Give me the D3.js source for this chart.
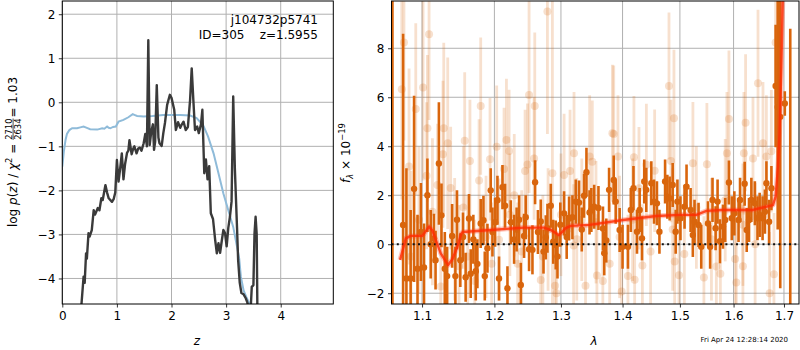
<!DOCTYPE html>
<html>
<head>
<meta charset="utf-8">
<script src="https://cdn.jsdelivr.net/npm/d3@7/dist/d3.min.js"></script>
<style>
  body { margin: 0; background: white; }
  svg { font-family: "DejaVu Sans", sans-serif; }
</style>
</head>
<body>
<div id="fig"></div>
<script>
const width = 800
const height = 350

// ---- left panel: log p(z) ----
// [z, log p] posterior (dark) and prior (blue)
const posterior = [[0.32,-5.2],[0.35,-4.6],[0.39,-3.96],[0.41,-4.1],[0.435,-3.43],[0.45,-3.55],[0.48,-2.97],[0.50,-3.05],[0.54,-2.9],[0.575,-2.45],[0.60,-2.55],[0.65,-2.4],[0.68,-2.45],[0.715,-2.18],[0.74,-2.22],[0.79,-1.88],[0.82,-2.05],[0.85,-2.18],[0.91,-2.26],[0.94,-2.2],[0.97,-2.05],[1.0,-1.31],[1.03,-1.8],[1.06,-1.5],[1.09,-1.16],[1.12,-1.75],[1.15,-1.4],[1.185,-1.15],[1.21,-1.1],[1.23,-0.86],[1.27,-1.18],[1.30,-1.05],[1.32,-1.0],[1.36,-1.16],[1.39,-1.05],[1.42,-1.03],[1.45,-1.1],[1.49,-0.93],[1.52,-0.72],[1.55,-1.0],[1.575,1.41],[1.60,-0.97],[1.63,-0.66],[1.66,-0.5],[1.68,-1.08],[1.70,-0.9],[1.73,0.39],[1.76,-0.8],[1.78,-0.93],[1.82,-0.99],[1.85,-0.7],[1.88,-0.47],[1.92,-0.06],[1.97,0.17],[2.0,0.1],[2.05,-0.17],[2.08,-0.63],[2.12,-0.45],[2.16,-0.58],[2.19,-0.5],[2.22,-0.44],[2.26,-0.63],[2.30,-0.56],[2.34,0.05],[2.37,0.77],[2.40,0.05],[2.43,-0.63],[2.47,-0.55],[2.50,-0.7],[2.54,-0.5],[2.565,-0.17],[2.60,-1.61],[2.63,-1.3],[2.66,-1.75],[2.69,-1.45],[2.72,-2.52],[2.76,-2.65],[2.80,-3.13],[2.83,-3.43],[2.86,-3.2],[2.89,-3.42],[2.92,-3.15],[2.95,-2.9],[2.98,-2.97],[3.01,-3.27],[3.04,-2.85],[3.07,-2.6],[3.10,-2.25],[3.13,0.13],[3.16,-1.5],[3.20,-2.85],[3.22,-3.58],[3.25,-4.1],[3.28,-4.33],[3.32,-4.36],[3.36,-4.45],[3.39,-4.55],[3.42,-4.75],[3.45,-4.7],[3.47,-4.19],[3.50,-4.15],[3.52,-2.98],[3.54,-2.6],[3.56,-3.0],[3.575,-5.0]]
const prior = [[0,-1.46],[0.03,-1.1],[0.06,-0.85],[0.085,-0.72],[0.13,-0.63],[0.18,-0.59],[0.27,-0.59],[0.33,-0.57],[0.39,-0.55],[0.45,-0.58],[0.51,-0.61],[0.64,-0.62],[0.73,-0.59],[0.77,-0.6],[0.82,-0.55],[0.85,-0.58],[0.88,-0.59],[0.93,-0.56],[0.98,-0.55],[1.03,-0.44],[1.12,-0.4],[1.21,-0.34],[1.29,-0.27],[1.33,-0.29],[1.37,-0.31],[1.49,-0.32],[1.65,-0.31],[1.85,-0.29],[2.16,-0.29],[2.34,-0.3],[2.46,-0.36],[2.58,-0.52],[2.67,-0.78],[2.77,-1.16],[2.86,-1.61],[2.95,-2.07],[3.04,-2.45],[3.13,-2.83],[3.2,-3.28],[3.24,-3.55],[3.27,-3.96],[3.32,-4.27],[3.38,-4.45],[3.43,-4.58],[3.5,-4.8]]
const zTicks = [0, 1, 2, 3, 4]
const pTicks = [-4, -3, -2, -1, 0, 1, 2]

// ---- right panel: spectrum ----
// [lambda, flux, error]
const specStrong = [[1.0615,-10,25],[1.0752,0.79,7.8],[1.0795,-1.4,4.5],[1.0850,-1.4,2.8],[1.0895,2.26,3.8],[1.094,-1.0,2.2],[1.0985,0.5,2.0],[1.1026,-0.95,1.8],[1.1071,2.0,1.5],[1.1115,0.0,1.4],[1.1159,0.24,1.0],[1.118,-0.65,1.2],[1.1225,3.3,2.5],[1.126,1.18,1.3],[1.1305,-1.0,1.5],[1.1337,-1.3,1.2],[1.1405,0.34,1.3],[1.145,-1.3,1.2],[1.1472,1.0,1.2],[1.1518,-0.65,1.1],[1.1555,0.3,1.0],[1.1592,-1.35,1.0],[1.1639,1.05,1.0],[1.1663,-1.2,1.0],[1.17,0.2,1.0],[1.1734,-1.1,1.2],[1.1757,-0.8,1.0],[1.1804,0.85,1.0],[1.1843,0.98,1.0],[1.1862,-1.3,1.0],[1.19,-0.16,1.0],[1.1947,2.2,0.9],[1.1972,0.5,1.0],[1.2010,0.9,1.0],[1.2044,1.8,1.0],[1.2067,-1.4,0.9],[1.2117,2.33,0.9],[1.2155,1.57,0.9],[1.219,-1.8,0.9],[1.2239,0.9,0.9],[1.2288,0.2,1.0],[1.2325,0.6,0.9],[1.2362,1.0,1.0],[1.2387,-1.66,0.9],[1.2436,0.34,0.9],[1.2461,1.1,0.9],[1.2511,-0.2,0.9],[1.2562,-0.23,1.0],[1.2602,2.53,0.9],[1.2645,0.5,0.9],[1.2688,0.93,0.9],[1.2730,-0.3,0.9],[1.2765,0.28,0.9],[1.2791,0.65,1.0],[1.2842,1.57,0.9],[1.288,0.1,0.9],[1.2919,-0.03,1.0],[1.2946,-0.5,0.9],[1.2990,0.8,0.9],[1.3049,1.26,0.9],[1.309,0.3,0.9],[1.3128,1.05,0.9],[1.3181,1.1,0.9],[1.3234,1.74,0.9],[1.3286,1.7,0.9],[1.333,0.6,0.9],[1.3367,1.98,0.9],[1.3405,2.94,1.0],[1.3455,1.3,0.9],[1.3484,1.4,0.9],[1.353,1.53,0.9],[1.360,1.48,0.9],[1.3674,0.64,0.9],[1.3695,-0.37,0.9],[1.3729,0.15,0.9],[1.3775,2.22,0.9],[1.3852,2.62,1.0],[1.3885,1.74,0.9],[1.3951,0.58,0.9],[1.40,-0.1,0.9],[1.4091,-0.1,0.9],[1.414,1.4,0.9],[1.4185,2.29,0.9],[1.4245,0.51,0.9],[1.4291,1.4,0.9],[1.4331,0.24,0.9],[1.437,2.56,0.9],[1.4405,2.22,0.9],[1.4493,2.49,0.9],[1.454,1.74,0.9],[1.4591,1.67,0.9],[1.4635,0.51,0.9],[1.4735,2.56,0.9],[1.4775,1.94,0.9],[1.4816,1.87,0.9],[1.487,2.42,0.9],[1.4924,0.51,0.9],[1.4955,1.74,0.9],[1.501,1.06,0.9],[1.5084,1.53,0.9],[1.512,2.35,0.9],[1.5194,1.4,0.9],[1.5235,0.38,0.9],[1.5266,0.92,0.9],[1.534,0.79,0.9],[1.539,-0.1,0.9],[1.5515,0.85,0.9],[1.5555,-0.1,0.9],[1.560,1.81,0.9],[1.5658,0.65,0.9],[1.5695,1.74,0.9],[1.574,0.12,0.9],[1.5797,0.72,0.9],[1.584,0.99,0.9],[1.5911,2.52,0.9],[1.5965,1.06,0.9],[1.6015,1.26,0.9],[1.6096,0.99,0.9],[1.6125,1.81,0.9],[1.6215,2.47,0.9],[1.6255,0.58,0.9],[1.630,0.99,0.9],[1.6346,1.81,0.9],[1.6415,1.67,0.9],[1.6467,1.06,0.9],[1.651,1.2,0.9],[1.6568,1.06,0.9],[1.6615,1.33,0.9],[1.6645,2.49,0.9],[1.6698,0.92,0.9],[1.6745,2.29,0.9],[1.683,6.46,2.5],[1.6872,5.6,5.0],[1.6924,5.2,7.0],[1.7017,5.75,0.5],[1.7129,-3.0,11.8]]
const specWeak = [[1.0735,6.33,4.5],[1.0763,8.24,4.0],[1.0829,3.17,4.0],[1.0855,-0.5,3.5],[1.0917,5.52,3.5],[1.0960,1.0,3.0],[1.1013,6.4,3.8],[1.1060,2.8,3.0],[1.1071,4.73,3.0],[1.1093,8.57,3.5],[1.1138,1.33,3.0],[1.1206,2.42,2.5],[1.125,-1.73,2.5],[1.128,3.67,3.0],[1.1291,4.73,3.5],[1.1345,4.12,3.5],[1.1385,2.3,2.5],[1.1440,0.2,2.5],[1.1500,-0.9,2.5],[1.1560,1.5,2.5],[1.1579,4.22,2.8],[1.1620,-0.5,2.5],[1.1652,3.4,2.5],[1.1720,-1.5,2.5],[1.1781,2.6,2.5],[1.1804,5.64,2.8],[1.1880,0.3,2.5],[1.1937,3.47,2.5],[1.1960,-0.8,2.5],[1.2033,3.98,2.5],[1.2067,0.18,2.5],[1.214,3.07,2.5],[1.2175,4.26,2.5],[1.2214,3.81,2.5],[1.2225,1.2,2.5],[1.2290,2.0,2.5],[1.2340,-0.8,2.5],[1.2400,-0.3,2.5],[1.2451,2.99,2.5],[1.2487,3.25,2.5],[1.2511,6.09,4.0],[1.2587,3.5,2.5],[1.2597,5.64,3.0],[1.2688,-1.46,2.5],[1.2720,-0.5,2.5],[1.2790,9.5,5.0],[1.2800,0.6,2.5],[1.2867,2.9,7.5],[1.2909,-1.7,2.5],[1.293,-2.0,2.5],[1.3000,1.2,2.5],[1.3049,2.83,2.5],[1.3143,2.99,2.5],[1.3200,-0.05,2.5],[1.3206,3.71,2.5],[1.3250,0.2,2.5],[1.3330,1.0,2.5],[1.339,-1.7,2.5],[1.3457,3.58,2.5],[1.35,3.37,2.5],[1.3560,0.9,2.5],[1.3575,-1.28,2.5],[1.3672,-1.5,2.5],[1.3785,-0.8,2.5],[1.383,4.53,2.8],[1.3852,4.5,2.8],[1.3923,3.58,2.5],[1.3950,0.3,2.5],[1.3985,-1.93,2.5],[1.4091,-1.3,2.5],[1.4170,1.0,2.5],[1.4193,3.55,2.5],[1.4205,-1.45,2.5],[1.4279,2.29,2.5],[1.4338,-0.87,2.5],[1.4407,3.24,2.5],[1.4480,-0.3,2.5],[1.4551,3.0,2.5],[1.4804,6.46,3.0],[1.4839,3.4,2.5],[1.4870,0.6,2.5],[1.4893,5.14,2.8],[1.4906,-0.7,2.5],[1.4983,-1.27,2.5],[1.5080,-0.4,2.5],[1.5236,3.31,2.5],[1.5300,1.5,2.5],[1.5439,-1.36,2.5],[1.5495,3.27,2.5],[1.5580,0.2,2.5],[1.5672,-0.91,2.5],[1.5748,-1.2,2.5],[1.5840,1.8,2.5],[1.5873,3.71,2.5],[1.5911,5.11,2.8],[1.6030,-0.6,2.5],[1.6053,-1.56,2.5],[1.6180,0.8,2.5],[1.6181,-0.9,2.5],[1.62,3.71,2.5],[1.6233,4.96,2.8],[1.6378,3.5,2.5],[1.6420,0.0,2.5],[1.6477,6.57,3.0],[1.6576,4.12,2.5],[1.6644,3.58,2.5],[1.6709,-2.0,2.5],[1.6744,3.8,2.5],[1.6796,-1.23,2.5],[1.683,8.24,2.5]]
// best-fit model [lambda, flux]
const model = [[1.0713,-0.64],[1.0787,0.24],[1.0852,0.34],[1.1005,0.34],[1.1093,0.72],[1.1138,0.56],[1.1183,0.18],[1.125,-0.37],[1.135,-0.85],[1.141,-0.6],[1.1478,-0.1],[1.1534,0.45],[1.155,0.5],[1.1947,0.58],[1.2436,0.68],[1.2738,0.68],[1.2842,0.58],[1.297,0.38],[1.3,0.45],[1.3075,0.66],[1.3154,0.75],[1.3457,0.79],[1.4007,0.99],[1.458,1.15],[1.4996,1.2],[1.530,1.2],[1.5486,1.36],[1.5798,1.4],[1.6378,1.4],[1.6576,1.5],[1.6776,1.6],[1.683,1.94],[1.6877,3.17],[1.691,4.54],[1.6947,7.25],[1.698,10.5],[1.70,12]]
const lamTicks = [1.1, 1.2, 1.3, 1.4, 1.5, 1.6, 1.7]
const fluxTicks = [-2, 0, 2, 4, 6, 8]

const objName = "j104732p5741"
const objInfo = "ID=305    z=1.5955"
const stamp = "Fri Apr 24 12:28:14 2020"

const orange = "#d9650c"
const gridColor = "#b0b0b0"

const svg = d3.select("#fig").append("svg")
    .attr("width", width)
    .attr("height", height)

// scales
const xz = d3.scaleLinear().domain([0, 4.963]).range([62.3, 333.3])
const yp = d3.scaleLinear().domain([-4.58, 2.30]).range([304, 1])
const xl = d3.scaleLog().domain([1.0603, 1.731]).range([391.5, 799])
const yf = d3.scaleLinear().domain([-2.44, 9.93]).range([304, 1])

const defs = svg.append("defs")
defs.append("clipPath").attr("id", "clipL").append("rect")
    .attr("x", 62.3).attr("y", 1).attr("width", 333.3 - 62.3).attr("height", 303)
defs.append("clipPath").attr("id", "clipR").append("rect")
    .attr("x", 391.5).attr("y", 1).attr("width", 799 - 391.5).attr("height", 303)

function grid(g, xs, xTicks, ys, yTicks) {
    g.selectAll(".gx").data(xTicks).join("line")
        .attr("x1", d => xs(d)).attr("x2", d => xs(d))
        .attr("y1", ys.range()[0]).attr("y2", ys.range()[1])
        .attr("stroke", gridColor).attr("stroke-width", 1)
    g.selectAll(".gy").data(yTicks).join("line")
        .attr("class", "gy")
        .attr("y1", d => ys(d)).attr("y2", d => ys(d))
        .attr("x1", xs.range()[0]).attr("x2", xs.range()[1])
        .attr("stroke", gridColor).attr("stroke-width", 1)
}

function axes(xs, xTicks, ys, yTicks, fmtX) {
    const ax = svg.append("g")
        .attr("transform", `translate(0,${ys.range()[0]})`)
        .call(d3.axisBottom(xs).tickValues(xTicks).tickSize(3.5).tickPadding(3.5).tickFormat(fmtX))
    const ay = svg.append("g")
        .attr("transform", `translate(${xs.range()[0]},0)`)
        .call(d3.axisLeft(ys).tickValues(yTicks).tickSize(3.5).tickPadding(3.5)
            .tickFormat(d => d3.format("d")(d).replace("-", "\u2212")))
    for (const a of [ax, ay]) {
        a.select(".domain").remove()
        a.selectAll("text").attr("font-size", 12).attr("fill", "black")
            .attr("font-family", "DejaVu Sans")
        a.selectAll("line").attr("stroke", "black").attr("stroke-width", 0.8)
    }
    svg.append("rect")
        .attr("x", xs.range()[0]).attr("y", ys.range()[1])
        .attr("width", xs.range()[1] - xs.range()[0])
        .attr("height", ys.range()[0] - ys.range()[1])
        .attr("fill", "none").attr("stroke", "black").attr("stroke-width", 1)
}

// ---------- left panel ----------
const left = svg.append("g")
grid(left, xz, zTicks, yp, pTicks)

const plotL = left.append("g").attr("clip-path", "url(#clipL)")
const lineZ = d3.line().x(d => xz(d[0])).y(d => yp(d[1]))
plotL.append("path").datum(prior)
    .attr("d", lineZ).attr("fill", "none")
    .attr("stroke", "#8fbbd9").attr("stroke-width", 2)
plotL.append("path").datum(posterior)
    .attr("d", lineZ).attr("fill", "none")
    .attr("stroke", "#3a3a3a").attr("stroke-width", 2.4)
    .attr("stroke-linejoin", "round")

left.append("text").attr("x", 318).attr("y", 24)
    .attr("text-anchor", "end").attr("font-size", 12).text(objName)
left.append("text").attr("x", 318).attr("y", 39)
    .attr("text-anchor", "end").attr("font-size", 12)
    .attr("xml:space", "preserve").style("white-space", "pre").text(objInfo)

axes(xz, zTicks, yp, pTicks, d3.format("d"))

svg.append("text").attr("x", 197).attr("y", 345)
    .attr("text-anchor", "middle").attr("font-size", 12)
    .attr("font-style", "italic").text("z")

// rotated y label built from pieces
function mathLabel(tx, ty, pieces) {
    const g = svg.append("g").attr("transform", `translate(${tx},${ty}) rotate(-90)`)
    let x = 0
    for (const p of pieces) {
        if (p.frac) {
            const a = g.append("text").attr("x", x).attr("y", -5.2).attr("font-size", 8.4).text(p.frac[0])
            const b = g.append("text").attr("x", x).attr("y", 4.2).attr("font-size", 8.4).text(p.frac[1])
            const w = Math.max(a.node().getComputedTextLength(), b.node().getComputedTextLength())
            g.append("line").attr("x1", x).attr("x2", x + w).attr("y1", -3.9).attr("y2", -3.9)
                .attr("stroke", "black").attr("stroke-width", 0.7)
            x += w + 1
        } else {
            const t = g.append("text").attr("x", x)
                .attr("y", p.sup ? -5 : (p.sub ? 3 : 0))
                .attr("font-size", p.sup || p.sub ? 8.4 : 12)
                .attr("font-style", p.it ? "italic" : "normal")
                .style("white-space", "pre")
                .text(p.t)
            x += t.node().getComputedTextLength()
        }
    }
    g.selectAll("*").attr("transform", `translate(${-x / 2},0)`)
}

mathLabel(17, 152, [
    {t: "log "}, {t: "p", it: true}, {t: "("}, {t: "z", it: true}, {t: ") / "},
    {t: "\u03c7", it: true}, {t: "2", sup: true}, {t: " = "},
    {frac: ["2710", "2634"]}, {t: "= 1.03"}
])

// ---------- right panel ----------
const right = svg.append("g")
grid(right, xl, lamTicks, yf, fluxTicks)

const plotR = right.append("g").attr("clip-path", "url(#clipR)")

// alpha per mark, so overlaps build up like matplotlib
function errorbars(g, data, alpha, bw, r) {
    const s = g.append("g")
    s.selectAll("line").data(data).join("line")
        .attr("x1", d => xl(d[0])).attr("x2", d => xl(d[0]))
        .attr("y1", d => yf(d[1] - d[2])).attr("y2", d => yf(d[1] + d[2]))
        .attr("stroke", orange).attr("stroke-width", bw)
        .attr("stroke-opacity", alpha)
    s.selectAll("circle").data(data).join("circle")
        .attr("cx", d => xl(d[0])).attr("cy", d => yf(d[1]))
        .attr("r", r).attr("fill", orange).attr("fill-opacity", alpha)
}
errorbars(plotR, specWeak, 0.2, 2.8, 4)
errorbars(plotR, specStrong, 1, 2.6, 3.2)

plotR.append("line")
    .attr("x1", 391.5).attr("x2", 799)
    .attr("y1", yf(0)).attr("y2", yf(0))
    .attr("stroke", "#111").attr("stroke-width", 2)
    .attr("stroke-dasharray", "2,3.3")

const lineL = d3.line().x(d => xl(d[0])).y(d => yf(d[1]))
plotR.append("path").datum(model)
    .attr("d", lineL).attr("fill", "none")
    .attr("stroke", "#ff3a1a").attr("stroke-width", 5).attr("opacity", 0.3)
    .attr("stroke-linejoin", "round")
plotR.append("path").datum(model)
    .attr("d", lineL).attr("fill", "none")
    .attr("stroke", "#ff2a00").attr("stroke-width", 2.4).attr("opacity", 0.8)
    .attr("stroke-linejoin", "round")

axes(xl, lamTicks, yf, fluxTicks, d3.format(".1f"))

svg.append("text").attr("x", 594).attr("y", 345)
    .attr("text-anchor", "middle").attr("font-size", 12)
    .attr("font-style", "italic").text("\u03bb")

mathLabel(350, 153, [
    {t: "f", it: true}, {t: "\u03bb", sub: true, it: true}, {t: " \u00d7 10"}, {t: "\u221219", sup: true}
])

svg.append("text").attr("x", 788).attr("y", 342)
    .attr("text-anchor", "end").attr("font-size", 7).text(stamp)
</script>
</body>
</html>
